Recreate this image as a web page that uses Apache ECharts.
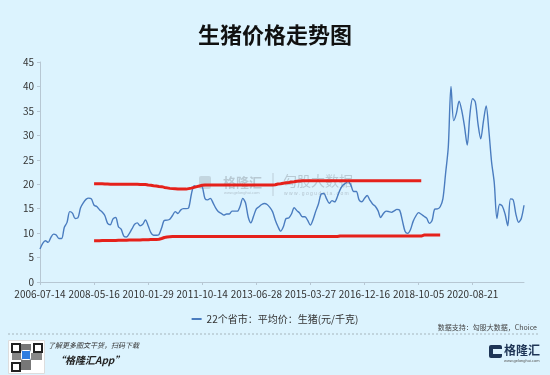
<!DOCTYPE html>
<html><head><meta charset="utf-8">
<script src="https://cdn.jsdelivr.net/npm/echarts@6/dist/echarts.min.js"></script>
<style>html,body{margin:0;padding:0;background:#dcf3fe;} #c{width:550px;height:375px;}</style>
</head><body><div id="c"></div>
<script>
// ---- data ----
const titleText = '生猪价格走势图';
const seriesName = '22个省市：平均价：生猪(元/千克)';
const tickLabels = ['2006-07-14','2008-05-16','2010-01-29','2011-10-14','2013-06-28','2015-03-27','2016-12-16','2018-10-05','2020-08-21'];
const pointsPerTick = 20;
const price = [
 6.75, 7.9, 8.45, 8.1, 9.1, 9.8, 9.6, 8.9, 8.9, 11.2,
 12.2, 14.4, 14.1, 13.0, 13.1, 15.2, 16.2, 16.9, 17.15, 17.0,
 15.7, 15.45, 14.8, 14.3, 13.55, 12.0, 11.7, 12.9, 13.2, 11.3,
 10.8, 9.4, 9.2, 9.9, 10.85, 11.8, 12.1, 11.5, 11.8, 12.7,
 11.5, 10.1, 9.55, 9.55, 9.7, 11.1, 12.6, 12.65, 12.85, 13.6,
 14.4, 14.0, 14.7, 15.0, 15.0, 15.2, 18.0, 19.7, 19.5, 19.7,
 19.5, 17.1, 16.8, 17.1, 16.2, 15.1, 14.35, 14.05, 13.7, 13.9,
 13.9, 14.5, 14.5, 14.5, 15.5, 17.1, 16.2, 13.3, 12.1, 13.5,
 14.95, 15.4, 15.85, 16.05, 15.85, 15.25, 14.4, 12.7, 11.35, 10.4,
 11.3, 13.0, 13.1, 13.9, 15.2, 14.6, 14.1, 13.35, 13.35, 12.6,
 11.65, 12.8, 14.5, 16.0, 18.0, 18.1, 17.0, 16.1, 16.65, 16.4,
 17.5, 18.9, 19.8, 20.2, 20.6, 19.75, 18.5, 18.5, 16.8, 16.4,
 17.1, 17.7, 16.75, 15.95, 15.5, 14.6, 13.2, 14.0, 14.5, 14.4,
 14.25, 14.55, 14.85, 14.7, 12.6, 10.4, 9.95, 10.7, 12.4, 13.5,
 14.2, 13.85, 13.45, 13.05, 12.0, 12.6, 14.9, 14.95, 15.4, 17.0,
 22.2, 27.6, 40.0, 33.0, 34.5, 37.0, 35.0, 31.8, 28.0, 34.3,
 37.5, 36.8, 32.3, 29.3, 32.9, 36.0, 31.0, 24.6, 20.3, 13.0,
 15.9, 15.5, 13.9, 11.5, 17.0, 16.8, 13.9, 12.2, 13.0, 15.7
];
// hand-drawn red band lines (values start at category index bandStart)
const bandStart = 20;
const upperBand = [
 20.1, 20.1, 20.1, 20.1, 20.05, 20.05, 20.0, 20.0, 20.0, 20.0,
 20.0, 20.0, 20.0, 20.0, 20.0, 20.0, 20.0, 19.95, 19.95, 19.95,
 19.85, 19.8, 19.7, 19.65, 19.55, 19.5, 19.35, 19.25, 19.15, 19.1,
 19.05, 19.0, 19.0, 19.0, 19.0, 19.1, 19.2, 19.35, 19.5, 19.65,
 19.8, 19.85, 19.85, 19.85, 19.85, 19.85, 19.85, 19.85, 19.85, 19.85,
 19.85, 19.85, 19.85, 19.85, 19.85, 19.85, 19.85, 19.85, 19.85, 19.85,
 19.85, 19.85, 19.85, 19.85, 19.85, 19.85, 19.85, 19.9, 20.05, 20.1,
 20.2, 20.3, 20.35, 20.45, 20.5, 20.6, 20.65, 20.7, 20.7, 20.7,
 20.7, 20.7, 20.7, 20.7, 20.7, 20.7, 20.7, 20.7, 20.7, 20.7,
 20.7, 20.7, 20.7, 20.7, 20.7, 20.7, 20.7, 20.7, 20.7, 20.7,
 20.7, 20.7, 20.7, 20.7, 20.7, 20.7, 20.7, 20.7, 20.7, 20.7,
 20.7, 20.7, 20.7, 20.7, 20.7, 20.7, 20.7, 20.7, 20.7, 20.7,
 20.7, 20.7
];
const lowerBand = [
 8.45, 8.45, 8.45, 8.5, 8.5, 8.5, 8.5, 8.5, 8.5, 8.55,
 8.55, 8.55, 8.55, 8.6, 8.6, 8.6, 8.6, 8.6, 8.65, 8.65,
 8.65, 8.7, 8.7, 8.7, 8.75, 8.9, 9.1, 9.2, 9.25, 9.3,
 9.3, 9.3, 9.3, 9.3, 9.3, 9.3, 9.3, 9.3, 9.3, 9.3,
 9.3, 9.3, 9.3, 9.3, 9.3, 9.3, 9.3, 9.3, 9.3, 9.3,
 9.3, 9.3, 9.3, 9.3, 9.3, 9.3, 9.3, 9.3, 9.3, 9.3,
 9.3, 9.3, 9.3, 9.3, 9.3, 9.3, 9.3, 9.3, 9.3, 9.3,
 9.3, 9.3, 9.3, 9.3, 9.3, 9.3, 9.3, 9.3, 9.3, 9.3,
 9.3, 9.3, 9.3, 9.3, 9.3, 9.3, 9.3, 9.3, 9.3, 9.3,
 9.3, 9.4, 9.4, 9.4, 9.4, 9.4, 9.4, 9.4, 9.4, 9.4,
 9.4, 9.4, 9.4, 9.4, 9.4, 9.4, 9.4, 9.4, 9.4, 9.4,
 9.4, 9.4, 9.4, 9.4, 9.4, 9.4, 9.4, 9.4, 9.4, 9.4,
 9.4, 9.4, 9.6, 9.6, 9.6, 9.6, 9.6, 9.6, 9.6
];
const yTicks = {min: 0, max: 45, interval: 5};

// ---- build ----
const categories = price.map((v, i) => i % pointsPerTick === 0 ? (tickLabels[i / pointsPerTick] || '') : '');
function pad(arr, start) {
  return price.map((_, i) => (i >= start && i - start < arr.length) ? arr[i - start] : null);
}
const chart = echarts.init(document.getElementById('c'), null, {renderer: 'canvas'});
const FONT = '"Noto Sans CJK SC", "Noto Sans", sans-serif';
chart.setOption({
  animation: false,
  backgroundColor: '#dcf3fe',
  textStyle: {fontFamily: FONT},
  title: {
    text: titleText, left: 'center', top: 19,
    textStyle: {fontSize: 22, fontWeight: 'bold', color: '#111', fontFamily: FONT}
  },
  legend: {
    data: [seriesName], left: 'center', top: 309,
    itemWidth: 10, itemHeight: 2, icon: 'rect',
    textStyle: {fontSize: 10, color: '#333', fontFamily: FONT}
  },
  grid: {left: 40, right: 26, top: 62, bottom: 93, containLabel: false},
  xAxis: {
    type: 'category', data: categories, boundaryGap: false,
    axisLine: {lineStyle: {color: '#b7c7d3'}},
    axisTick: {show: true, interval: pointsPerTick - 1, length: 3, lineStyle: {color: '#b7c7d3'}},
    axisLabel: {interval: pointsPerTick - 1, fontSize: 10, color: '#333', margin: 7, fontFamily: FONT},
    splitLine: {show: false}
  },
  yAxis: {
    type: 'value', min: yTicks.min, max: yTicks.max, interval: yTicks.interval,
    axisLine: {show: true, lineStyle: {color: '#b7c7d3'}},
    axisTick: {show: true, length: 3, lineStyle: {color: '#b7c7d3'}},
    axisLabel: {fontSize: 10, color: '#333', margin: 6, fontFamily: FONT},
    splitLine: {show: false}
  },
  series: [
    {name: seriesName, type: 'line', data: price, symbol: 'none', smooth: 0.3,
     lineStyle: {color: '#4a7cbf', width: 1.4}, itemStyle: {color: '#4a7cbf'}, z: 3},
    {name: 'upper', type: 'line', data: pad(upperBand, bandStart), symbol: 'none',
     lineStyle: {color: '#e5211b', width: 3}, itemStyle: {color: '#e5211b'}, z: 4},
    {name: 'lower', type: 'line', data: pad(lowerBand, bandStart), symbol: 'none',
     lineStyle: {color: '#e5211b', width: 3}, itemStyle: {color: '#e5211b'}, z: 4}
  ],
  graphic: [
    // watermark
    {type: 'rect', left: 199, top: 176, shape: {width: 12, height: 13, r: 2}, style: {fill: 'rgba(150,160,170,0.35)'}, z: 0},
    {type: 'text', left: 223, top: 176, style: {text: '格隆汇', fontSize: 13, fontWeight: 'bold', fill: 'rgba(140,150,160,0.45)', fontFamily: FONT}, z: 0},
    {type: 'text', left: 224, top: 191, style: {text: 'www.gelonghui.com', fontSize: 4, fill: 'rgba(140,150,160,0.5)'}, z: 0},
    {type: 'line', shape: {x1: 273, y1: 173, x2: 273, y2: 196}, style: {stroke: 'rgba(140,150,160,0.4)', lineWidth: 1}, z: 0},
    {type: 'text', left: 283, top: 174, style: {text: '勾股大数据', fontSize: 14, fill: 'rgba(140,150,160,0.45)', fontFamily: FONT}, z: 0},
    {type: 'text', left: 284, top: 191, style: {text: 'w w w . g o g u d a t a . c o m', fontSize: 5, fill: 'rgba(140,150,160,0.5)'}, z: 0},
    // footer
    {type: 'text', right: 13, top: 324, style: {text: '数据支持：勾股大数据，Choice', fontSize: 7, fill: '#444', fontFamily: FONT}},
    {type: 'line', shape: {x1: 8, y1: 334, x2: 540, y2: 334}, style: {stroke: '#9aa5ad', lineWidth: 0.8, lineDash: [2, 2]}},
    // QR code placeholder
    {type: 'rect', left: 8, top: 340, shape: {width: 36, height: 33}, style: {fill: '#fff', stroke: '#ddd'}},
    {type: 'rect', left: 11, top: 343, shape: {width: 8, height: 8}, style: {fill: '#fff', stroke: '#222', lineWidth: 2}},
    {type: 'rect', left: 33, top: 343, shape: {width: 8, height: 8}, style: {fill: '#fff', stroke: '#222', lineWidth: 2}},
    {type: 'rect', left: 11, top: 362, shape: {width: 8, height: 8}, style: {fill: '#fff', stroke: '#222', lineWidth: 2}},
    {type: 'rect', left: 21, top: 344, shape: {width: 10, height: 26}, style: {fill: '#777'}},
    {type: 'rect', left: 12, top: 353, shape: {width: 30, height: 7}, style: {fill: '#888'}},
    {type: 'rect', left: 21, top: 350, shape: {width: 9, height: 9, r: 1}, style: {fill: '#2e7de0', stroke: '#fff', lineWidth: 1}},
    {type: 'text', left: 48, top: 342, style: {text: '了解更多图文干货，扫码下载', fontSize: 7, fontStyle: 'italic', fill: '#333', fontFamily: FONT}},
    {type: 'text', left: 55, top: 355, style: {text: '“格隆汇App”', fontSize: 10, fontWeight: 'bold', fontStyle: 'italic', fill: '#222', fontFamily: FONT}},
    // logo
    {type: 'rect', left: 489, top: 345, shape: {width: 13, height: 13, r: 2}, style: {fill: '#1e3556'}},
    {type: 'rect', left: 493, top: 349, shape: {width: 9, height: 5}, style: {fill: '#dcf3fe'}},
    {type: 'text', left: 504, top: 344, style: {text: '格隆汇', fontSize: 12, fontWeight: 'bold', fill: '#1e3556', fontFamily: FONT}},
    {type: 'text', left: 504, top: 359, style: {text: 'www.gelonghui.com', fontSize: 4, fill: '#555'}}
  ]
});
</script></body></html>
